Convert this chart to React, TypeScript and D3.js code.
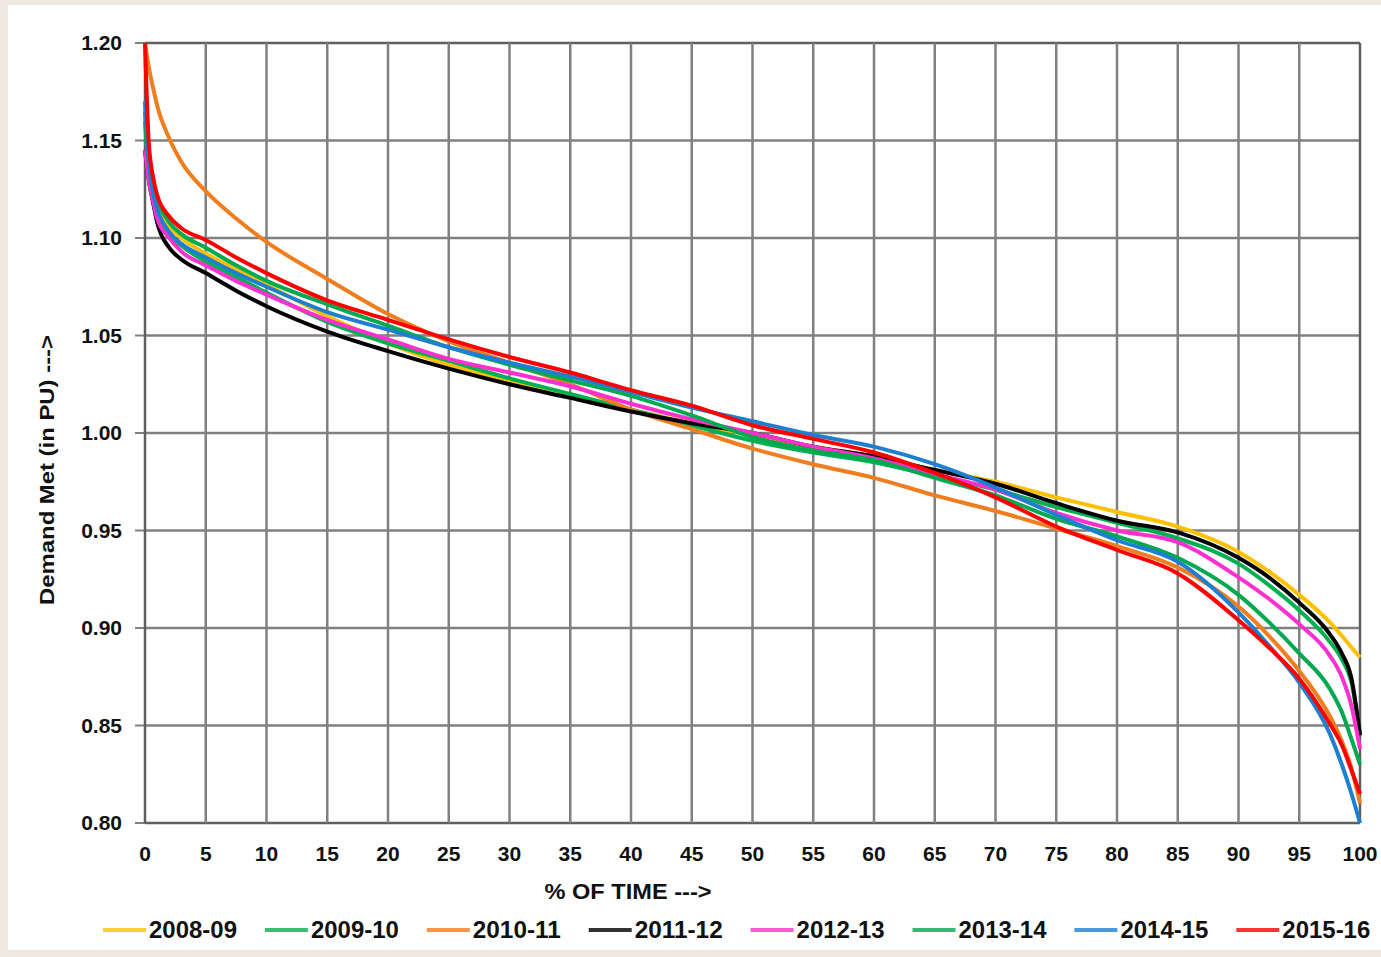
import React from "react";
import * as d3 from "d3";

const percentTime = [0, 0.3, 0.7, 1, 2, 3, 5, 7.5, 10, 15, 20, 25, 30, 35, 40, 45, 50, 55, 60, 65, 70, 75, 80, 85, 90, 92.5, 95, 97.5, 98.5, 99.3, 100];

const years = ["2008-09", "2009-10", "2010-11", "2011-12", "2012-13", "2013-14", "2014-15", "2015-16"];
const colors = ["#ffc000", "#00b050", "#f07d1e", "#000000", "#ff2fd0", "#00a850", "#1e7fd0", "#ff0000"];

const y2008 = [1.17, 1.14, 1.125, 1.118, 1.106, 1.1, 1.092, 1.084, 1.076, 1.06, 1.046, 1.035, 1.027, 1.019, 1.012, 1.005, 0.999, 0.993, 0.988, 0.981, 0.975, 0.967, 0.9595, 0.952, 0.939, 0.929, 0.917, 0.903, 0.896, 0.89, 0.885];
const y2009 = [1.16, 1.135, 1.12, 1.113, 1.102, 1.096, 1.088, 1.08, 1.072, 1.057, 1.046, 1.037, 1.028, 1.02, 1.012, 1.004, 0.996, 0.99, 0.985, 0.978, 0.971, 0.962, 0.954, 0.946, 0.933, 0.922, 0.909, 0.893, 0.884, 0.872, 0.845];
const y2010 = [1.2, 1.188, 1.176, 1.168, 1.151, 1.139, 1.124, 1.11, 1.098, 1.079, 1.061, 1.047, 1.036, 1.025, 1.012, 1.002, 0.992, 0.984, 0.977, 0.968, 0.96, 0.951, 0.942, 0.931, 0.911, 0.896, 0.878, 0.855, 0.842, 0.828, 0.81];
const y2011 = [1.145, 1.13, 1.117, 1.108, 1.095, 1.089, 1.082, 1.073, 1.065, 1.052, 1.042, 1.033, 1.025, 1.018, 1.011, 1.005, 1.0, 0.993, 0.988, 0.981, 0.974, 0.964, 0.955, 0.949, 0.936, 0.926, 0.913, 0.897, 0.887, 0.874, 0.845];
const y2012 = [1.145, 1.13, 1.118, 1.11, 1.1, 1.093, 1.086, 1.078, 1.071, 1.058, 1.048, 1.038, 1.031, 1.024, 1.015, 1.007, 1.0, 0.993, 0.987, 0.979, 0.971, 0.959, 0.95, 0.944, 0.926, 0.915, 0.902, 0.886, 0.875, 0.86, 0.838];
const y2013 = [1.165, 1.14, 1.126, 1.12, 1.108, 1.102, 1.095, 1.086, 1.078, 1.066, 1.055, 1.044, 1.035, 1.027, 1.019, 1.009, 0.998, 0.991, 0.986, 0.977, 0.968, 0.956, 0.947, 0.936, 0.917, 0.903, 0.887, 0.869, 0.857, 0.843, 0.83];
const y2014 = [1.17, 1.14, 1.122, 1.115, 1.103, 1.097, 1.09, 1.082, 1.075, 1.062, 1.053, 1.044, 1.036, 1.029, 1.021, 1.013, 1.006, 0.999, 0.993, 0.984, 0.972, 0.958, 0.945, 0.934, 0.908, 0.891, 0.872, 0.846, 0.83, 0.815, 0.8];
const y2015 = [1.2, 1.15, 1.13, 1.122, 1.111, 1.105, 1.099, 1.09, 1.082, 1.068, 1.058, 1.048, 1.039, 1.031, 1.022, 1.014, 1.004, 0.997, 0.99, 0.9795, 0.967, 0.952, 0.94, 0.928, 0.904, 0.89, 0.874, 0.851, 0.84, 0.827, 0.815];

const seriesValues = [y2008, y2009, y2010, y2011, y2012, y2013, y2014, y2015];

const xTicks = d3.range(0, 101, 5);
const yTicks = [0.8, 0.85, 0.9, 0.95, 1.0, 1.05, 1.1, 1.15, 1.2];

export default function App() {
  const W = 1381, H = 957;
  const x = d3.scaleLinear().domain([0, 100]).range([145, 1360]);
  const y = d3.scaleLinear().domain([0.8, 1.2]).range([823, 43]);
  const line = d3
    .line<number>()
    .x((_, i) => x(percentTime[i]))
    .y((d) => y(d))
    .curve(d3.curveMonotoneX);
  const font = "'Liberation Sans', Arial, sans-serif";
  const legendStart = 103;
  const legendStep = 161.9;

  return (
    <svg width={W} height={H} style={{ position: "fixed", left: 0, top: 0 }} fontFamily={font}>
      <rect x={0} y={0} width={W} height={H} fill="#ede9e1" />
      <rect x={8} y={5} width={W - 8} height={945} fill="#ffffff" />
      <defs>
        <clipPath id="plotclip">
          <rect x={x(0) - 4} y={y(1.2) - 1} width={x(100) - x(0) + 8} height={y(0.8) - y(1.2) + 2} />
        </clipPath>
      </defs>
      {yTicks.map((t) => (
        <line
          key={"h" + t}
          x1={x(0)}
          x2={x(100)}
          y1={y(t)}
          y2={y(t)}
          stroke={t === 0.8 || t === 1.2 ? "#5f5f5f" : "#808080"}
          strokeWidth={2.5}
        />
      ))}
      {yTicks.map((t) => (
        <line key={"yt" + t} x1={x(0) - 10} x2={x(0)} y1={y(t)} y2={y(t)} stroke="#808080" strokeWidth={2} />
      ))}
      {xTicks.map((t) => (
        <line
          key={"v" + t}
          x1={x(t)}
          x2={x(t)}
          y1={y(1.2)}
          y2={y(0.8)}
          stroke={t === 0 || t === 100 ? "#5f5f5f" : "#808080"}
          strokeWidth={2.5}
        />
      ))}
      {yTicks.map((t) => (
        <text
          key={"yl" + t}
          x={122}
          y={y(t)}
          dy="0.35em"
          textAnchor="end"
          fontSize={21}
          fontWeight="bold"
          fill="#111"
        >
          {t.toFixed(2)}
        </text>
      ))}
      {xTicks.map((t) => (
        <text
          key={"xl" + t}
          x={x(t)}
          y={854}
          dy="0.35em"
          textAnchor="middle"
          fontSize={21}
          fontWeight="bold"
          fill="#111"
        >
          {t}
        </text>
      ))}
      <g clipPath="url(#plotclip)">
        {seriesValues.map((vals, i) => (
          <path
            key={years[i]}
            d={line(vals) || ""}
            fill="none"
            stroke={colors[i]}
            strokeWidth={4}
            strokeLinejoin="round"
          />
        ))}
      </g>
      <text
        x={628}
        y={891}
        dy="0.35em"
        textAnchor="middle"
        fontSize={22}
        fontWeight="bold"
        fill="#111"
        textLength={167}
        lengthAdjust="spacingAndGlyphs"
      >
        % OF TIME ---&gt;
      </text>
      <text
        transform={`translate(47,470) rotate(-90)`}
        textAnchor="middle"
        dy="0.35em"
        fontSize={21}
        fontWeight="bold"
        fill="#111"
        textLength={270}
        lengthAdjust="spacingAndGlyphs"
      >
        Demand Met (in PU) ---&gt;
      </text>
      {years.map((yr, i) => {
        const lx = legendStart + i * legendStep;
        return (
          <g key={"lg" + yr}>
            <line x1={lx} x2={lx + 43} y1={930} y2={930} stroke={colors[i]} strokeOpacity={0.8} strokeWidth={4} />
            <text
              x={lx + 46}
              y={930}
              dy="0.35em"
              fontSize={23}
              fontWeight="bold"
              fill="#111"
              textLength={88}
              lengthAdjust="spacingAndGlyphs"
            >
              {yr}
            </text>
          </g>
        );
      })}
    </svg>
  );
}
